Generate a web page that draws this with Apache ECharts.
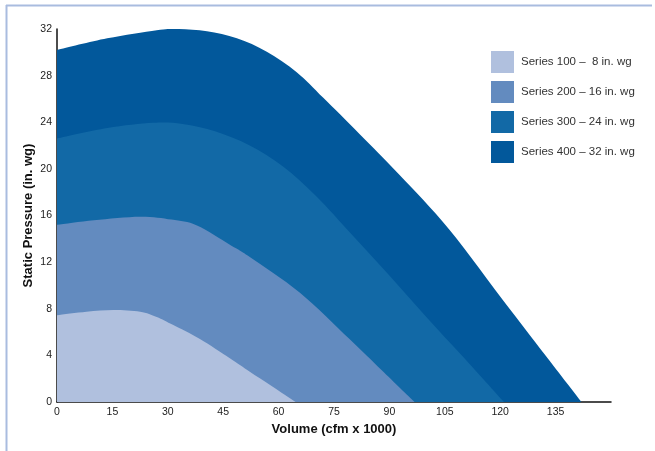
<!DOCTYPE html>
<html>
<head>
<meta charset="utf-8">
<script src="https://cdn.jsdelivr.net/npm/echarts@6/dist/echarts.min.js"></script>
<style>
html,body{margin:0;padding:0;background:#fff;}
#c{width:655px;height:451px;}
</style>
</head>
<body>
<div id="c"></div>
<script>
var seriesNames = ['Series 100 \u2013  8 in. wg','Series 200 \u2013 16 in. wg','Series 300 \u2013 24 in. wg','Series 400 \u2013 32 in. wg'];
var seriesColors = ['#b0c0de','#638bbf','#1269a6','#02589b'];
var xTicks = [0,15,30,45,60,75,90,105,120,135];
var s100 = [[0,7.45],[8,7.75],[15.3,7.9],[22.5,7.75],[27,7.3],[31.5,6.6],[38.7,5.4],[46.8,3.75],[52.2,2.6],[58,1.4],[64.6,0]];
var s200 = [[0,15.2],[10,15.6],[22.5,15.9],[31,15.65],[37.9,15.15],[46.8,13.5],[52.2,12.45],[65.7,9.4],[79.2,5.4],[88,2.7],[96.8,0]];
var s300 = [[0,22.6],[13.6,23.5],[26,23.95],[34,23.85],[43,23.2],[52.2,22.0],[61.2,20.2],[70.2,17.65],[80,14.3],[90,10.85],[100,7.3],[110,3.85],[121,0]];
var s400 = [[0,30.2],[13.6,31.2],[27,31.9],[33,32.0],[40.6,31.8],[48.7,31.2],[56.8,30.05],[64.9,28.3],[72.1,26.1],[81.9,23.0],[92.7,19.5],[106.2,14.8],[123,7.8],[142,0]];
var allData = [s100,s200,s300,s400];

function makeRender(pts, color) {
  return function (params, api) {
    if (params.dataIndex !== 0) return null;
    var p = pts.map(function (d) { return api.coord(d); });
    var n = p.length;
    var d = 'M' + p[0][0] + ' ' + p[0][1];
    for (var i = 0; i < n - 1; i++) {
      var p0 = p[Math.max(i - 1, 0)], p1 = p[i], p2 = p[i + 1], p3 = p[Math.min(i + 2, n - 1)];
      var c1x = p1[0] + (p2[0] - p0[0]) / 6, c1y = p1[1] + (p2[1] - p0[1]) / 6;
      var c2x = p2[0] - (p3[0] - p1[0]) / 6, c2y = p2[1] - (p3[1] - p1[1]) / 6;
      d += ' C' + c1x + ' ' + c1y + ' ' + c2x + ' ' + c2y + ' ' + p2[0] + ' ' + p2[1];
    }
    var b0 = api.coord([pts[n - 1][0], 0]);
    var o = api.coord([0, 0]);
    d += ' L' + b0[0] + ' ' + b0[1] + ' L' + o[0] + ' ' + o[1] + ' Z';
    return {type: 'path', shape: {pathData: d}, style: {fill: color, stroke: null}};
  };
}

var chart = echarts.init(document.getElementById('c'), null, {renderer:'canvas'});
var series = [];
for (var i = 3; i >= 0; i--) {
  series.push({
    name: seriesNames[i],
    type: 'custom',
    data: allData[i],
    encode: {x: 0, y: 1},
    renderItem: makeRender(allData[i], seriesColors[i]),
    itemStyle: {color: seriesColors[i]},
    clip: true,
    z: 2,
    silent: true
  });
}
var font = 'Liberation Sans, Arial, sans-serif';
chart.setOption({
  animation: false,
  backgroundColor: '#fff',
  textStyle: {fontFamily: font},
  grid: {left: 57, top: 29, right: 44, bottom: 49, containLabel: false},
  legend: {
    data: seriesNames.map(function(n){return {name:n, icon:'rect', itemStyle:{color: seriesColors[seriesNames.indexOf(n)]}};}),
    orient: 'vertical',
    left: 486, top: 46,
    itemWidth: 23, itemHeight: 22, itemGap: 8,
    textStyle: {fontFamily: font, fontSize: 11.5, color: '#333', padding: [0,0,0,2]},
    selectedMode: false
  },
  xAxis: {
    type: 'value', min: 0, max: 150, interval: 15,
    name: 'Volume (cfm x 1000)', nameLocation: 'middle', nameGap: 21,
    nameMoveOverlap: false,
    nameTextStyle: {fontFamily: font, fontSize: 13, color: '#111', fontWeight: 'bold'},
    axisLine: {show: true, onZero: false, lineStyle: {color: '#111', width: 1.5}},
    axisTick: {show: false},
    splitLine: {show: false},
    axisLabel: {fontFamily: font, fontSize: 10.5, color: '#222', margin: 5,
      formatter: function(v){ return xTicks.indexOf(v) >= 0 ? String(v) : ''; }}
  },
  yAxis: {
    type: 'value', min: 0, max: 32, interval: 4,
    name: 'Static Pressure (in. wg)', nameLocation: 'middle', nameGap: 22,
    nameMoveOverlap: false,
    nameTextStyle: {fontFamily: font, fontSize: 13, color: '#111', fontWeight: 'bold'},
    axisLine: {show: true, lineStyle: {color: '#111', width: 1.5}},
    axisTick: {show: false},
    splitLine: {show: false},
    axisLabel: {fontFamily: font, fontSize: 10.5, color: '#222', margin: 5}
  },
  graphic: [
    {type:'line', shape:{x1:6, y1:5.5, x2:652, y2:5.5}, style:{stroke:'#a9bcdf', lineWidth:2}, z:100},
    {type:'line', shape:{x1:6.5, y1:5, x2:6.5, y2:451}, style:{stroke:'#a9bcdf', lineWidth:2}, z:100}
  ],
  series: series
});
</script>
</body>
</html>
